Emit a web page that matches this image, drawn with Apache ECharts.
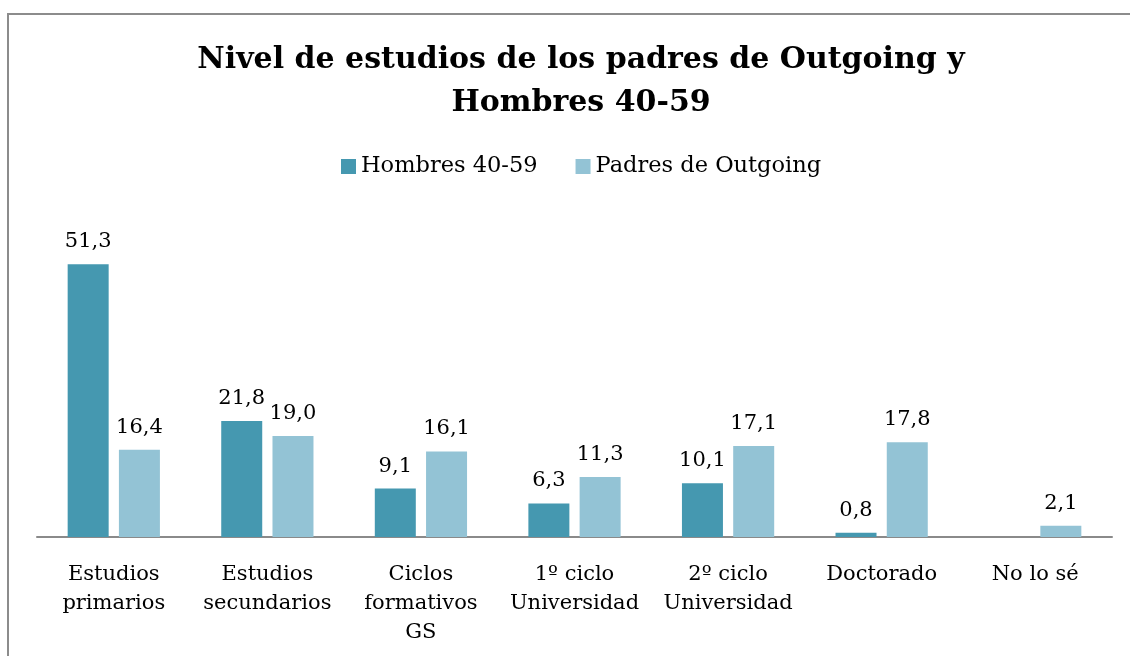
<!DOCTYPE html>
<html>
<head>
<meta charset="utf-8">
<script src="https://cdn.jsdelivr.net/npm/echarts@6/dist/echarts.min.js"></script>
<style>
  html, body { margin: 0; padding: 0; background: #fff; }
  #chart { width: 1130px; height: 656px; }
  #frame { position: absolute; left: 7px; top: 13px; width: 1140px; height: 700px; border: 2px solid #8c8c8c; box-sizing: border-box; pointer-events: none; }
</style>
</head>
<body>
<div id="chart"></div>
<div id="frame"></div>
<script>
// datos
const categorias = ['Estudios\nprimarios', 'Estudios\nsecundarios', 'Ciclos\nformativos\nGS', '1º ciclo\nUniversidad', '2º ciclo\nUniversidad', 'Doctorado', 'No lo sé']
const hombres = [51.3, 21.8, 9.1, 6.3, 10.1, 0.8, null]
const padres = [16.4, 19.0, 16.1, 11.3, 17.1, 17.8, 2.1]

const fuente = 'DejaVu Serif'
let chart = echarts.init(document.getElementById('chart'))

function etiqueta(p) {
  return p.value == null ? '' : p.value.toFixed(1).replace('.', ',')
}

let option = {
  animation: false,
  title: {
    text: 'Nivel de estudios de los padres de Outgoing y\nHombres 40-59',
    left: 576, top: 34, textAlign: 'center',
    textStyle: { fontFamily: fuente, fontWeight: 'bold', fontSize: 30, lineHeight: 43, color: '#000' }
  },
  legend: {
    top: 150, left: 336,
    itemWidth: 15, itemHeight: 15, itemGap: 38,
    icon: 'rect',
    textStyle: { fontFamily: fuente, fontSize: 22.5, color: '#000' },
    data: ['Hombres 40-59', 'Padres de Outgoing']
  },
  grid: { left: 37, right: 18, top: 218, bottom: 119, containLabel: false },
  xAxis: {
    type: 'category',
    data: categorias,
    axisLine: { lineStyle: { color: '#8a8a8a', width: 2 } },
    axisTick: { show: false },
    axisLabel: { fontFamily: fuente, fontSize: 21, color: '#000', lineHeight: 29, margin: 23, interval: 0 }
  },
  yAxis: {
    type: 'value', min: 0, max: 60,
    show: false
  },
  series: [
    {
      name: 'Hombres 40-59', type: 'bar', data: hombres,
      barWidth: 41, barGap: '25%',
      itemStyle: { color: '#4598b0' },
      label: { show: true, position: 'top', distance: 12, formatter: etiqueta, fontFamily: fuente, fontSize: 21, color: '#000' }
    },
    {
      name: 'Padres de Outgoing', type: 'bar', data: padres,
      barWidth: 41,
      itemStyle: { color: '#93c3d5' },
      label: { show: true, position: 'top', distance: 12, formatter: etiqueta, fontFamily: fuente, fontSize: 21, color: '#000' }
    }
  ]
}
chart.setOption(option)
</script>
</body>
</html>
